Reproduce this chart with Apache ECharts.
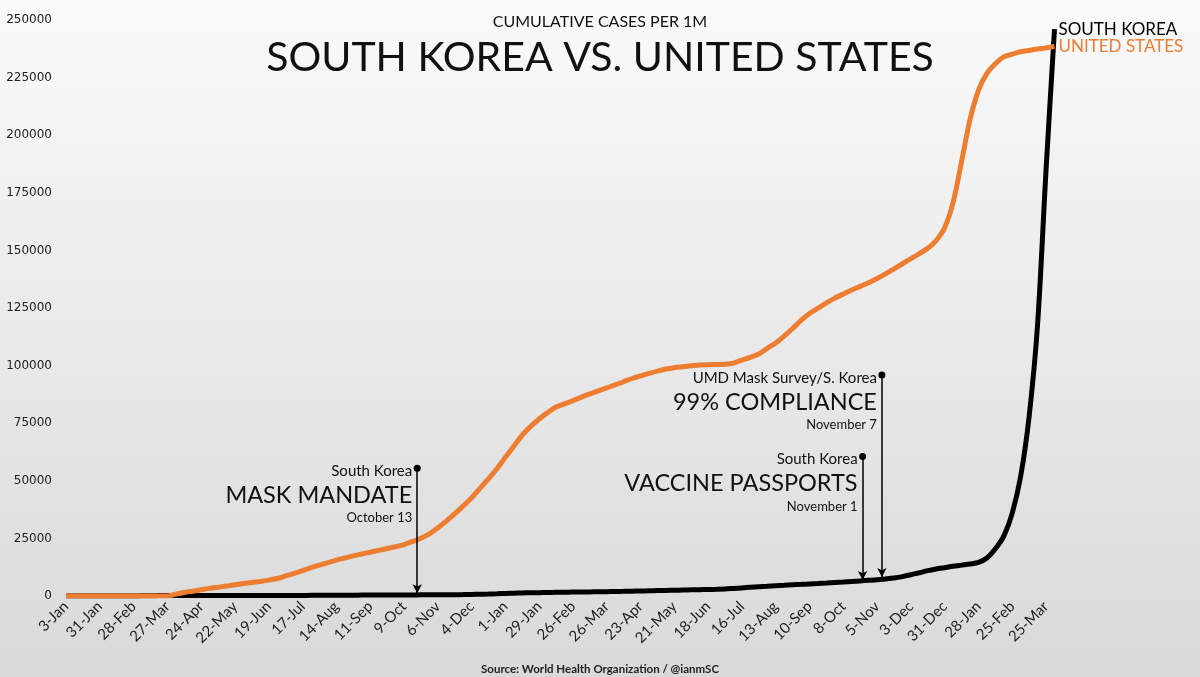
<!DOCTYPE html>
<html><head><meta charset="utf-8">
<script src="https://cdn.jsdelivr.net/npm/echarts/dist/echarts.min.js"></script>
<style>html,body{margin:0;padding:0;width:1200px;height:677px;overflow:hidden}#c{width:1200px;height:677px}</style>
</head><body><div id="c"></div><script>
// x-axis tick labels, one every 28 days starting 3-Jan-2020
const tickLabels = ['3-Jan','31-Jan','28-Feb','27-Mar','24-Apr','22-May','19-Jun','17-Jul','14-Aug','11-Sep','9-Oct','6-Nov','4-Dec','1-Jan','29-Jan','26-Feb','26-Mar','23-Apr','21-May','18-Jun','16-Jul','13-Aug','10-Sep','8-Oct','5-Nov','3-Dec','31-Dec','28-Jan','25-Feb','25-Mar'];
// weekly cumulative cases per 1M (week 0 = 3-Jan-2020)
const southKorea = [0,0,0,0,0,0,0,
 2,20,90,140,165,175,190,200,205,208,210,
 212,215,218,222,228,234,240,245,250,258,
 265,272,278,285,290,300,340,380,410,430,
 445,460,470,480,490,500,515,535,570,620,
 680,750,850,980,1120,1230,1320,1390,1450,1520,
 1580,1630,1690,1740,1790,1840,1890,1950,2020,2100,
 2180,2260,2340,2420,2500,2580,2660,2740,2820,2920,
 3050,3280,3520,3760,3980,4190,4420,4650,4880,5050,
 5230,5400,5600,5860,6080,6320,6560,6800,7050,7400,
 7800,8400,9200,10100,11000,11700,12300,12900,13400,13900,
 14600,16500,20500,26000,36000,52000,78000,118000,185000,246000];
const unitedStates = [0,0,0,0,0,0,0,0,0,0,0,0,0,
 800,1500,2100,2700,3300,3800,4300,4900,5400,5900,6300,6900,
 7600,8700,9800,11000,12300,13400,14500,15600,16500,17400,
 18200,19000,19800,20600,21400,22300,23600,25100,27000,29500,
 32500,35600,39000,42600,46700,50800,55200,60200,65000,69800,
 73600,76800,79600,82000,83400,84800,86300,87700,89000,90300,
 91600,93000,94400,95500,96600,97600,98500,99100,99500,99900,
 100300,100400,100500,100600,101100,102400,103600,105000,107500,109800,
 112800,116100,119600,122600,124900,127200,129300,131100,132800,134400,
 136000,137800,139800,142000,144200,146400,148600,150900,154300,159800,
 170800,188500,206800,219500,226800,231000,234000,235200,236200,236800,
 237400,237900,238500];
const yTicks = [0,25000,50000,75000,100000,125000,150000,175000,200000,225000,250000];
// annotations (day offset from 3-Jan-2020, arrow top value, arrow bottom value)
const annoDay = [291, 660, 676];
const annoTop = [55500, 60500, 95900];
const annoBottom = [1200, 6900, 8200];
const annoSmall = ['South Korea', 'South Korea', 'UMD Mask Survey/S. Korea'];
const annoBig = ['MASK MANDATE', 'VACCINE PASSPORTS', '99% COMPLIANCE'];
const annoDate = ['October 13', 'November 1', 'November 7'];

const days = southKorea.map((_, i) => i * 7);
const FONT = 'Lato, "Noto Sans", sans-serif';
const chart = echarts.init(document.getElementById('c'), null, {renderer: 'canvas'});
const option = {
  animation: false,
  backgroundColor: {type: 'linear', x: 0, y: 0, x2: 0, y2: 1,
    colorStops: [{offset: 0, color: '#fafafa'}, {offset: 1, color: '#d9d9d9'}]},
  title: [
    {text: 'CUMULATIVE CASES PER 1M', left: 'center', top: 9,
      textStyle: {fontFamily: FONT, fontSize: 16, fontWeight: 'normal', color: '#111'}},
    {text: 'SOUTH KOREA VS. UNITED STATES', left: 'center', top: 32,
      textStyle: {fontFamily: FONT, fontSize: 41, fontWeight: 'normal', color: '#111'}},
    {text: 'Source: World Health Organization / @ianmSC', left: 'center', top: 658,
      textStyle: {fontFamily: FONT, fontSize: 11.5, fontWeight: 'bold', color: '#222'}}
  ],
  grid: {left: 66, right: 145.5, top: 20, bottom: 81, containLabel: false},
  xAxis: {
    type: 'value', min: 0, max: days[days.length - 1], interval: 28,
    axisLine: {show: false}, axisTick: {show: false}, splitLine: {show: false},
    axisLabel: {rotate: 45, fontFamily: FONT, fontSize: 15, color: '#222', margin: 8,
      showMaxLabel: false,
      formatter: v => (v % 28 === 0 && tickLabels[v / 28] !== undefined) ? tickLabels[v / 28] : ''}
  },
  yAxis: {
    type: 'value', min: yTicks[0], max: yTicks[yTicks.length - 1], interval: yTicks[1] - yTicks[0],
    axisLine: {show: false}, axisTick: {show: false}, splitLine: {show: false},
    axisLabel: {fontFamily: '"DejaVu Sans", sans-serif', fontSize: 12, color: '#222', margin: 14,
      formatter: v => String(v)}
  },
  series: [
    {
      name: 'South Korea', type: 'line', showSymbol: false, z: 2,
      smooth: 0.3,
      data: days.map((d, i) => [d, southKorea[i]]),
      lineStyle: {color: '#000', width: 5}, itemStyle: {color: '#000'},
      endLabel: {show: true, formatter: 'SOUTH KOREA', color: '#000', fontFamily: FONT, fontSize: 17, distance: 4},
      markLine: {
        silent: true, symbol: ['circle', 'arrow'], symbolSize: [7, 9],
        lineStyle: {color: '#000', width: 1.5, type: 'solid'}, label: {show: false},
        data: annoDay.map((d, i) => [{coord: [d, annoTop[i]]}, {coord: [d, annoBottom[i]]}])
      }
    },
    {
      name: 'United States', type: 'line', showSymbol: false, z: 3,
      smooth: 0.3,
      data: days.map((d, i) => [d, unitedStates[i]]),
      lineStyle: {color: '#ED7D31', width: 5}, itemStyle: {color: '#ED7D31'},
      endLabel: {show: true, formatter: 'UNITED STATES', color: '#ED7D31', fontFamily: FONT, fontSize: 17, distance: 4}
    }
  ]
};
chart.setOption(option);

const texts = [];
annoDay.forEach((d, i) => {
  const p = chart.convertToPixel({gridIndex: 0}, [d, annoTop[i]]);
  const xr = p[0] - 5;
  texts.push({type: 'text', x: xr, y: p[1] + 3, silent: true,
    style: {text: annoSmall[i], fill: '#111', font: '15px ' + FONT, textAlign: 'right', textVerticalAlign: 'middle'}});
  texts.push({type: 'text', x: xr, y: p[1] + 27, silent: true,
    style: {text: annoBig[i], fill: '#111', font: '23.5px ' + FONT, textAlign: 'right', textVerticalAlign: 'middle'}});
  texts.push({type: 'text', x: xr, y: p[1] + 50, silent: true,
    style: {text: annoDate[i], fill: '#111', font: '13px ' + FONT, textAlign: 'right', textVerticalAlign: 'middle'}});
});
chart.setOption({graphic: texts});
</script></body></html>
